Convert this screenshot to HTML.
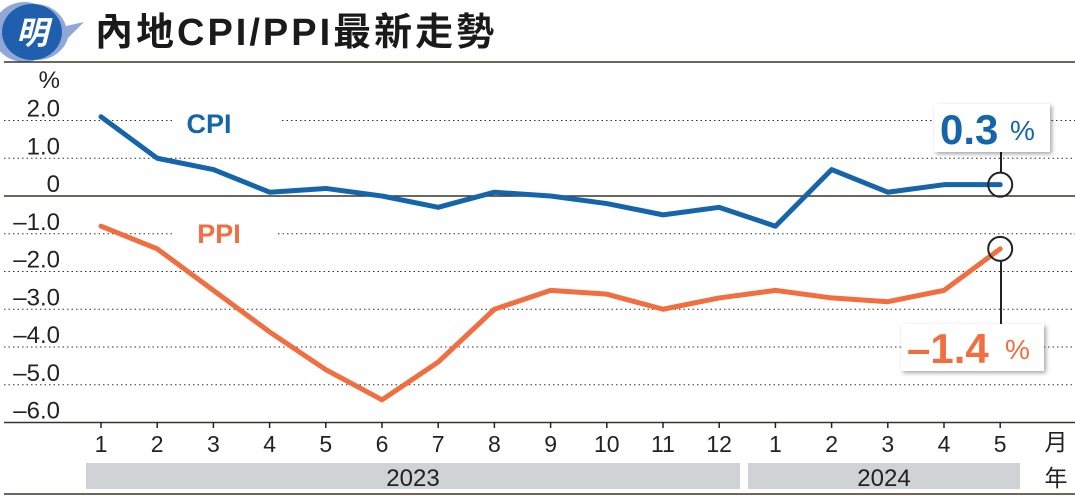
<!DOCTYPE html>
<html><head><meta charset="utf-8"><style>
body{margin:0;background:#fff;}
svg text{font-family:"Liberation Sans","Noto Sans CJK TC",sans-serif;}
</style></head><body>
<svg width="1075" height="496" viewBox="0 0 1075 496">
<defs><filter id="sh" x="-20%" y="-20%" width="150%" height="150%"><feDropShadow dx="2" dy="2" stdDeviation="2" flood-color="#000" flood-opacity="0.35"/></filter></defs>
<g>
<path d="M36,4 A32,30 0 1 0 36,60 A32,30 0 0 0 68,38 L84,22 L66,26 A32,30 0 0 0 36,4Z" fill="#8fa8d8"/>
<ellipse cx="32" cy="32" rx="30" ry="28" fill="#1f5fae"/>
<text x="32" y="44" font-size="32" font-weight="bold" fill="#fff" text-anchor="middle" font-style="italic">明</text>
</g>
<text x="95" y="45" font-size="38" font-weight="bold" fill="#1a1a1a" letter-spacing="3">內地CPI/PPI最新走勢</text>
<line x1="4" y1="62" x2="1075" y2="62" stroke="#3a3328" stroke-width="1.5"/>
<line x1="4" y1="494" x2="1075" y2="494" stroke="#3a3328" stroke-width="1.5"/>
<g id="grid"></g>
<g id="yt"></g>
<text x="60" y="88" font-size="24" fill="#222" text-anchor="end">%</text>
<g id="xt"></g>
<rect x="86" y="463" width="654" height="26" fill="#cfd3d6"/>
<rect x="748" y="463" width="272" height="26" fill="#cfd3d6"/>
<text x="413" y="486" font-size="24" fill="#222" text-anchor="middle">2023</text>
<text x="884" y="486" font-size="24" fill="#222" text-anchor="middle">2024</text>
<text x="1056" y="450" font-size="23" fill="#222" text-anchor="middle">月</text>
<text x="1056" y="486" font-size="23" fill="#222" text-anchor="middle">年</text>
<g id="lines"></g>
<text x="209" y="133" font-size="27" font-weight="bold" fill="#1565aa" text-anchor="middle">CPI</text>
<text x="219" y="243" font-size="27" font-weight="bold" fill="#f06e40" text-anchor="middle">PPI</text>
<g>
<line x1="1001" y1="152" x2="1001" y2="172" stroke="#222" stroke-width="2"/>
<rect x="934" y="104" width="116" height="48" fill="#fff" filter="url(#sh)"/>
<text x="940" y="144" font-size="42" font-weight="bold" fill="#1565aa">0.3</text>
<text x="1010" y="140" font-size="28" fill="#1565aa">%</text>
</g>
<g>
<line x1="1001" y1="261" x2="1001" y2="324" stroke="#222" stroke-width="2"/>
<rect x="901" y="324" width="143" height="47" fill="#fff" filter="url(#sh)"/>
<text x="907" y="363" font-size="42" font-weight="bold" fill="#f06e40">–1.4</text>
<text x="1005" y="359" font-size="28" fill="#f06e40">%</text>
</g>
<g id="circ"></g>
</svg>
<script>
const months=["1","2","3","4","5","6","7","8","9","10","11","12","1","2","3","4","5"];
const cpi=[2.1,1.0,0.7,0.1,0.2,0.0,-0.3,0.1,0.0,-0.2,-0.5,-0.3,-0.8,0.7,0.1,0.3,0.3];
const ppi=[-0.8,-1.4,-2.5,-3.6,-4.6,-5.4,-4.4,-3.0,-2.5,-2.6,-3.0,-2.7,-2.5,-2.7,-2.8,-2.5,-1.4];
const yTicks=[2,1,0,-1,-2,-3,-4,-5,-6];
const yLabels=["2.0","1.0","0","–1.0","–2.0","–3.0","–4.0","–5.0","–6.0"];
const NS="http://www.w3.org/2000/svg";
const x=i=>101+i*56.2;
const y=v=>196-v*37.75;
function mk(t,a,p){const e=document.createElementNS(NS,t);for(const k in a)e.setAttribute(k,a[k]);document.getElementById(p).appendChild(e);return e;}
yTicks.forEach((v,i)=>{
  const yy=y(v);
  if(v===0||v===-6){
    const l=mk('line',{x1:4,x2:1075,y1:yy,y2:yy,stroke:'#3a3328','stroke-width':1.5},'grid');
    
    
  } else {
    const segs=(v===2)?[[4,172],[282,1075]]:(v===-1)?[[4,172],[278,1075]]:[[4,1075]];
    segs.forEach(s=>{
      const l=mk('line',{x1:s[0],x2:s[1],y1:yy,y2:yy,stroke:'#333','stroke-width':1,'stroke-dasharray':'1.5 3'},'grid');
      
      
    });
  }
  const t=mk('text',{x:60,y:yy-4,'font-size':24,fill:'#222','text-anchor':'end'},'yt');
  t.textContent=yLabels[i];
  
  
});
months.forEach((m,i)=>{
  const l=mk('line',{x1:x(i),x2:x(i),y1:422,y2:428,stroke:'#222','stroke-width':1.5},'xt');
  
  
  const t=mk('text',{x:x(i),y:452,'font-size':23,fill:'#222','text-anchor':'middle'},'xt');
  t.textContent=m;
  
  
});
function line(d,c,n){
  const p=mk('polyline',{points:d.map((v,i)=>x(i)+','+y(v)).join(' '),fill:'none',stroke:c,'stroke-width':5,'stroke-linejoin':'round','stroke-linecap':'round'},'lines');
  
  
}
line(cpi,'#1565aa','cpi-line');
line(ppi,'#f06e40','ppi-line');
[[cpi,'cpi-end-marker'],[ppi,'ppi-end-marker']].forEach(([d,n])=>{
  const c=mk('circle',{cx:x(d.length-1),cy:y(d[d.length-1]),r:12,fill:'none',stroke:'#222','stroke-width':2},'circ');
  
  
});
</script>
</body></html>
